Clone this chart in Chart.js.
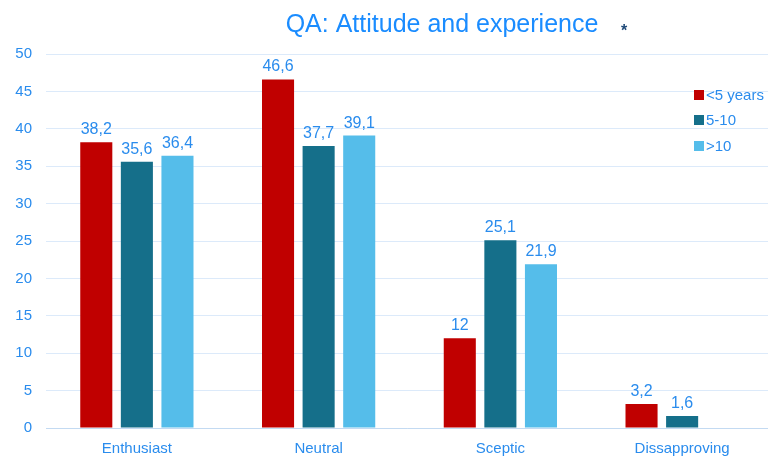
<!DOCTYPE html>
<html>
<head>
<meta charset="utf-8">
<script src="https://cdn.jsdelivr.net/npm/chart.js@4/dist/chart.umd.min.js"></script>
<style>
  html, body { margin: 0; padding: 0; background: #fff; }
  canvas { display: block; }
</style>
</head>
<body>
<canvas id="attitudeChart" width="768" height="457"></canvas>
<script>
// Chart data
const categories = ["Enthusiast", "Neutral", "Sceptic", "Dissapproving"];
const seriesNames = ["<5 years", "5-10", ">10"];
const under5 = [38.2, 46.6, 12, 3.2];
const from5to10 = [35.6, 37.7, 25.1, 1.6];
const over10 = [36.4, 39.1, 21.9, null];
const yTicks = [0, 5, 10, 15, 20, 25, 30, 35, 40, 45, 50];
const chartTitle = "QA: Attitude and experience";
const titleMark = "*";

const textBlue = "#2a8ced";
const barColors = ["#c00000", "#156f8a", "#55bdea"];

// format numbers with a decimal comma
function fmt(v) {
  return String(v).replace(".", ",");
}

// Let the category axis run a few pixels past the right edge of the canvas
const widenX = {
  id: "widenX",
  afterLayout(chart) {
    const x = chart.scales.x;
    x.right = x.left + 727;
    x.width = 727;
    x.configure();
  }
};

// Value labels over every bar
const valueLabels = {
  id: "valueLabels",
  afterDatasetsDraw(chart) {
    const ctx = chart.ctx;
    ctx.save();
    ctx.font = "16px 'Liberation Sans', Arial, sans-serif";
    ctx.fillStyle = textBlue;
    ctx.textAlign = "center";
    ctx.textBaseline = "alphabetic";
    chart.data.datasets.forEach((ds, i) => {
      const meta = chart.getDatasetMeta(i);
      meta.data.forEach((bar, j) => {
        const v = ds.data[j];
        if (v === null || v === undefined) return;
        ctx.fillText(fmt(v), bar.x, bar.y - 8);
      });
    });
    ctx.restore();
  }
};

// Title, asterisk and the legend on the right
const decorations = {
  id: "decorations",
  afterDraw(chart) {
    const ctx = chart.ctx;
    ctx.save();
    ctx.font = "25px 'Liberation Sans', Arial, sans-serif";
    ctx.fillStyle = "#1a8cff";
    ctx.textAlign = "center";
    ctx.textBaseline = "alphabetic";
    ctx.fillText(chartTitle, 442, 32);

    ctx.font = "bold 16px 'Liberation Sans', Arial, sans-serif";
    ctx.fillStyle = "#1f4a78";
    ctx.fillText(titleMark, 624, 36);

    // legend
    const rows = [95, 120, 146];
    ctx.font = "15px 'Liberation Sans', Arial, sans-serif";
    ctx.textAlign = "left";
    ctx.textBaseline = "middle";
    chart.data.datasets.forEach((ds, i) => {
      ctx.fillStyle = ds.backgroundColor;
      ctx.fillRect(694, rows[i] - 5, 10, 10);
      ctx.fillStyle = textBlue;
      ctx.fillText(ds.label, 706, rows[i] + 1);
    });
    ctx.restore();
  }
};

const ctx = document.getElementById("attitudeChart").getContext("2d");

new Chart(ctx, {
  type: "bar",
  data: {
    labels: categories,
    datasets: [
      { label: seriesNames[0], data: under5, backgroundColor: barColors[0] },
      { label: seriesNames[1], data: from5to10, backgroundColor: barColors[1] },
      { label: seriesNames[2], data: over10, backgroundColor: barColors[2] },
    ],
  },
  options: {
    responsive: false,
    animation: false,
    layout: { padding: { top: 54, right: 0, left: 0, bottom: 0 } },
    categoryPercentage: 0.67,
    barPercentage: 0.79,
    plugins: {
      legend: { display: false },
      title: { display: false },
      tooltip: { enabled: false },
    },
    scales: {
      x: {
        grid: { display: false },
        border: { color: "#c3daf2", width: 1 },
        ticks: {
          color: textBlue,
          font: { family: "'Liberation Sans', Arial, sans-serif", size: 15 },
          padding: 4,
        },
        afterFit(scale) { scale.height = 29; },
      },
      y: {
        min: 0,
        max: 50,
        afterBuildTicks(scale) {
          scale.ticks = yTicks.map((v) => ({ value: v }));
        },
        grid: { color: "#dceafa", drawTicks: false, lineWidth: 1 },
        border: { display: false },
        ticks: {
          color: textBlue,
          font: { family: "'Liberation Sans', Arial, sans-serif", size: 15 },
          padding: 14,
        },
        afterFit(scale) { scale.width = 46; },
      },
    },
  },
  plugins: [widenX, valueLabels, decorations],
});
</script>
</body>
</html>
